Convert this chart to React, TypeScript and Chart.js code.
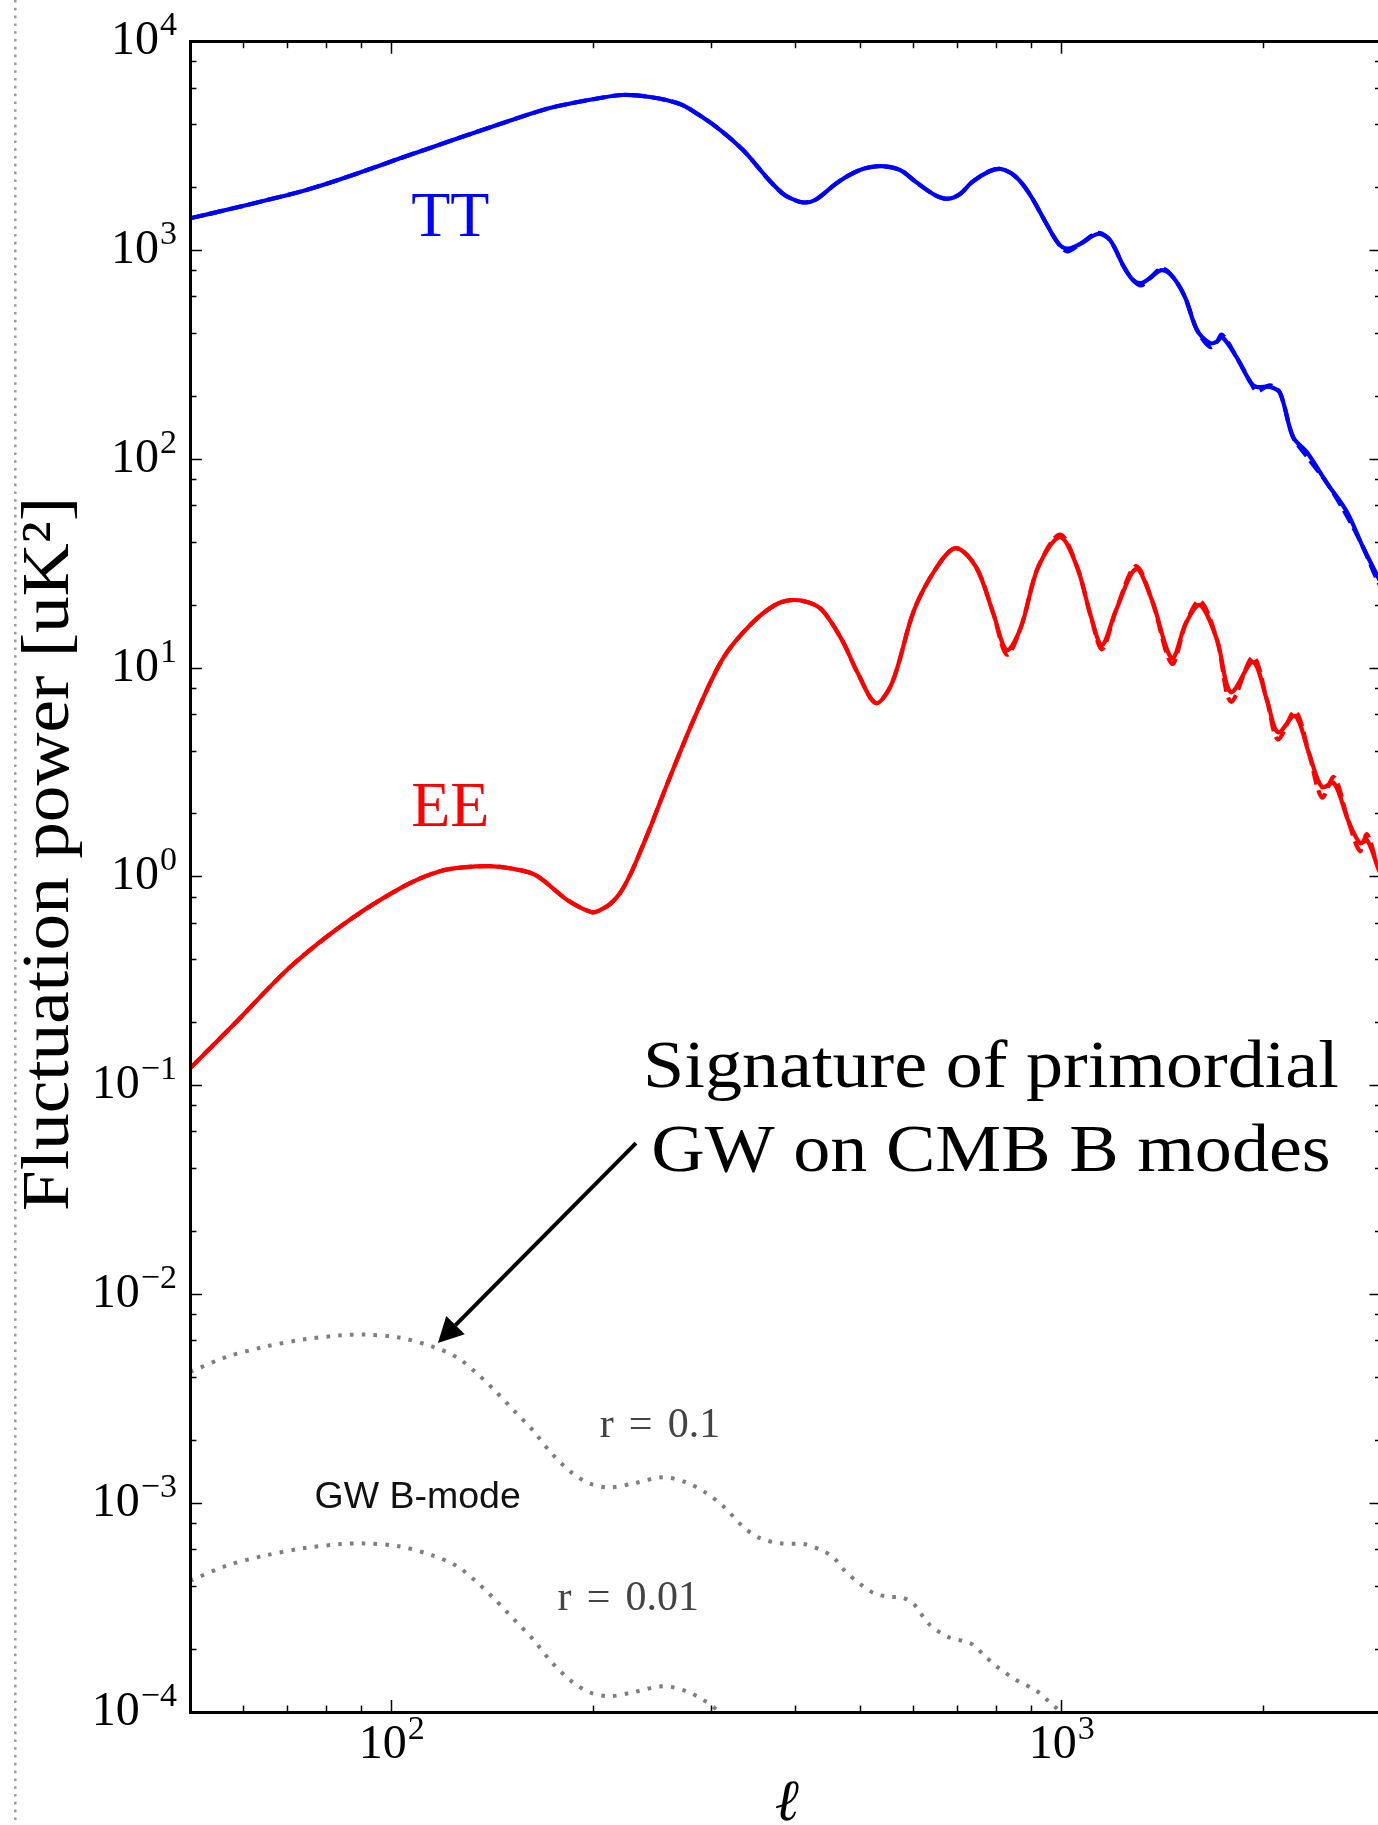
import React, { useEffect, useRef } from "react";
import { Chart, registerables } from "chart.js";

Chart.register(...registerables);

// ---------- spectra (multipole ℓ, power in uK²) ----------
const ttEll = [50, 58, 65.2, 73, 81.7, 91.9, 102.9, 122.2, 145.1, 172.3, 204.6, 221.4, 242.9, 269.2, 288.4, 310.7, 334.4, 350.0, 365.6, 382.5, 393.1, 410.4, 428.4, 463.4, 499.8, 536.7, 573.5, 605.9, 646.9, 675.7, 704.9, 734.6, 781.4, 811.5, 851.5, 893.5, 947.2, 987.1, 1018.1, 1064.6, 1132.4, 1180.1, 1238.3, 1277.2, 1312.8, 1354, 1411, 1465.4, 1527.1, 1591.3, 1664, 1704.5, 1734, 1819.4, 1915.7, 1955.7, 2045, 2116.6, 2213.2, 2322.3, 2487.5, 2664.4, 2814.9, 2963.8, 3088];
const ttSolid = [1426, 1592, 1745, 1911, 2135, 2429, 2763, 3344, 4034, 4813, 5375, 5556, 5434, 5030, 4431, 3734, 3028, 2566, 2175, 1884, 1784, 1699, 1745, 2125, 2429, 2533, 2429, 2127, 1843, 1770, 1864, 2127, 2402, 2456, 2273, 1884, 1354, 1086, 1020, 1074, 1199, 1122, 833, 722, 698, 738, 806, 746, 598, 416, 360, 366, 385, 312, 232, 222, 222, 208, 128, 108, 76.9, 55.9, 38.0, 27.3, 21.1];
const ttDashed = [1426, 1592, 1745, 1911, 2135, 2429, 2763, 3344, 4034, 4813, 5375, 5556, 5434, 5030, 4431, 3734, 3028, 2566, 2175, 1884, 1784, 1699, 1745, 2125, 2429, 2533, 2429, 2127, 1843, 1770, 1864, 2127, 2402, 2456, 2273, 1884, 1354, 1086, 990, 1074, 1215, 1122, 833, 722, 680, 738, 822, 746, 598, 416, 345, 366, 395, 312, 232, 212, 226, 208, 128, 103, 76.9, 53.5, 38.0, 26.0, 21.1];

const eeEll = [50, 58, 70.8, 86.4, 105, 118, 129, 140, 150, 164, 183, 199, 204.6, 211.7, 219.1, 226.8, 234.8, 242.9, 258, 285, 313, 345, 373, 394, 418, 439, 470, 496, 528, 558, 602, 651, 695, 745, 790, 828, 869, 922, 994, 1054, 1106, 1148, 1205, 1290, 1363, 1460, 1532, 1608, 1705, 1788, 1929, 2024, 2102, 2229, 2338, 2445, 2548, 2674, 2786, 2854, 2964, 3088];
const eeSolid = [0.121, 0.195, 0.374, 0.62, 0.912, 1.065, 1.113, 1.125, 1.1, 1.019, 0.773, 0.677, 0.693, 0.74, 0.835, 1.019, 1.313, 1.711, 2.81, 6.08, 11.28, 16.42, 20.02, 21.15, 20.69, 18.95, 13.61, 9.46, 6.8, 8.47, 18.95, 30.45, 37.55, 30.45, 18.33, 12.18, 15.7, 30.45, 42.39, 30.45, 17.54, 12.88, 18.95, 29.78, 21.15, 11.16, 16.42, 20.02, 13.61, 7.67, 10.68, 7.02, 4.93, 5.89, 3.91, 2.69, 2.81, 1.87, 1.45, 1.5, 1.11, 0.82];
const eeDashed = [0.121, 0.195, 0.374, 0.62, 0.912, 1.065, 1.113, 1.125, 1.1, 1.019, 0.773, 0.677, 0.693, 0.74, 0.835, 1.019, 1.313, 1.711, 2.81, 6.08, 11.28, 16.42, 20.02, 21.15, 20.69, 18.95, 13.61, 9.46, 6.8, 8.47, 18.95, 30.45, 37.55, 30.45, 18.33, 11.6, 15.7, 30.45, 43.6, 30.45, 17.54, 12.3, 18.95, 30.8, 21.15, 10.5, 16.42, 21.0, 13.61, 6.9, 11.3, 7.02, 4.55, 6.2, 3.91, 2.4, 3.0, 1.87, 1.33, 1.6, 1.11, 0.82];

// primordial gravitational-wave B-mode spectra
const bEll = [50, 56.7, 64.6, 73.7, 84.1, 91.0, 102.5, 115.3, 124.8, 133.3, 142.3, 152.0, 162.3, 173.3, 185.2, 197.7, 211.1, 228.5, 253.8, 274.7, 293.3, 313.3, 334.7, 354.5, 379.7, 413.9, 437.8, 455.5, 473.7, 499.3, 526.3, 554.2, 577.1, 600.3, 632.7, 676.0, 731.3, 770.7, 801.8, 856.2, 914.6, 951.5, 989.5, 1046.5];
const bR01 = [0.00425, 0.00502, 0.00561, 0.00608, 0.00637, 0.00642, 0.00622, 0.00561, 0.00502, 0.00425, 0.00348, 0.00279, 0.00224, 0.00173, 0.00141, 0.00124, 0.00119, 0.00124, 0.00133, 0.00126, 0.00113, 0.00096, 0.00077, 0.00068, 0.000643, 0.000636, 0.000595, 0.000553, 0.000477, 0.000412, 0.000369, 0.000356, 0.000354, 0.000331, 0.000265, 0.000229, 0.000213, 0.000183, 0.000164, 0.000142, 0.000127, 0.000114, 0.000102, 0.0000864];
const bR001 = [0.000425, 0.000502, 0.000561, 0.000608, 0.000637, 0.000642, 0.000622, 0.000561, 0.000502, 0.000425, 0.000348, 0.000279, 0.000224, 0.000173, 0.000141, 0.000124, 0.000119, 0.000124, 0.000133, 0.000126, 0.000113, 0.000096, 0.000077, 0.000068, 0.0000643, 0.0000636, 0.0000595, 0.0000553, 0.0000477, 0.0000412, 0.0000369, 0.0000356, 0.0000354, 0.0000331, 0.0000265, 0.0000229, 0.0000213, 0.0000183, 0.0000164, 0.0000142, 0.0000127, 0.0000114, 0.0000102, 0.00000864];

// ---------- axes ----------
const X_MIN = 50;
const X_MAX = 3000;
const Y_MIN = 1e-4;
const Y_MAX = 1e4;

const xMajorTicks = [100, 1000];
const xMajorLabels = ["2", "3"];
const xMinorTicks = [60, 70, 80, 90, 200, 300, 400, 500, 600, 700, 800, 900, 2000];
const yMajorTicks = [1e-4, 1e-3, 1e-2, 1e-1, 1, 10, 100, 1000, 10000];
const yMajorLabels = ["\u22124", "\u22123", "\u22122", "\u22121", "0", "1", "2", "3", "4"];
const yMinorSubs = [2, 4, 6, 8];
const yMinorTicks = yMajorTicks.slice(0, -1).flatMap((d) => yMinorSubs.map((s) => s * d));

const SERIF = "'Liberation Serif', 'DejaVu Serif', serif";
const SANS = "'Liberation Sans', Arial, sans-serif";

// text anchors in data coordinates (ℓ, power)
const ttLabelAt = [106.9, 1173];
const eeLabelAt = [106.9, 1.75];
const gwLabelAt = [76.7, 0.000946];
const r01LabelAt = [204.4, 0.002069];
const r001LabelAt = [176.8, 0.000307];
const noteAt = [784, 0.0983];
const noteLines = ["Signature of primordial", "GW on CMB B modes"];
const arrowTip = [117.2, 0.005857];
const arrowTail = [231.5, 0.05302];

const pts = (ell: number[], v: number[]) => ell.map((l, i) => ({ x: l, y: v[i] }));

function tickAxis(position: string, values: number[], len: number, border: boolean, weight: number, size: number) {
  const horizontal = position === "top" || position === "bottom";
  return {
    type: "logarithmic",
    axis: horizontal ? "x" : "y",
    position,
    min: horizontal ? X_MIN : Y_MIN,
    max: horizontal ? X_MAX : Y_MAX,
    weight,
    ticks: { display: false, autoSkip: false },
    grid: {
      display: true,
      drawOnChartArea: false,
      drawTicks: true,
      tickLength: -len,
      tickWidth: 1.5,
      tickColor: "#000",
      z: 1,
    },
    border: { display: border, color: "#000", width: 3, z: 1 },
    afterBuildTicks: (s: any) => {
      s.ticks = values.map((v) => ({ value: v }));
    },
    afterFit: (s: any) => {
      if (horizontal) s.height = size;
      else s.width = size;
    },
  };
}

function powerLabel(ctx: CanvasRenderingContext2D, exp: string, x: number, baseY: number, align: "right" | "center") {
  ctx.font = `48px ${SERIF}`;
  const wBase = ctx.measureText("10").width;
  ctx.font = `34px ${SERIF}`;
  const wExp = ctx.measureText(exp).width;
  const total = wBase + 1 + wExp;
  const left = align === "right" ? x - total : x - total / 2;
  ctx.textAlign = "left";
  ctx.textBaseline = "alphabetic";
  ctx.font = `48px ${SERIF}`;
  ctx.fillText("10", left, baseY);
  ctx.font = `34px ${SERIF}`;
  ctx.fillText(exp, left + wBase + 1, baseY - 19);
}

function stretched(ctx: CanvasRenderingContext2D, text: string, x: number, y: number, sx: number, align: CanvasTextAlign) {
  ctx.save();
  ctx.translate(x, y);
  ctx.scale(sx, 1);
  ctx.textAlign = align;
  ctx.textBaseline = "alphabetic";
  ctx.fillText(text, 0, 0);
  ctx.restore();
}

function mathRatio(ctx: CanvasRenderingContext2D, value: string, x: number, y: number) {
  ctx.font = `42px ${SERIF}`;
  ctx.textAlign = "left";
  ctx.textBaseline = "alphabetic";
  const gap = 42 * 0.36;
  let cx = x;
  for (const part of ["r", "=", value]) {
    ctx.fillText(part, cx, y);
    cx += ctx.measureText(part).width + gap;
  }
}

const decorPlugin = {
  id: "decor",
  beforeDraw(chart: any) {
    const ctx = chart.ctx as CanvasRenderingContext2D;
    ctx.save();
    ctx.strokeStyle = "#9c9c9c";
    ctx.lineWidth = 2.5;
    ctx.setLineDash([2.6, 5.2]);
    ctx.beginPath();
    ctx.moveTo(15.3, 0);
    ctx.lineTo(15.3, chart.height);
    ctx.stroke();
    ctx.restore();
  },
  afterDraw(chart: any) {
    const ctx = chart.ctx as CanvasRenderingContext2D;
    const area = chart.chartArea;
    const xs = chart.scales.x;
    const ys = chart.scales.y;
    const px = (p: number[]) => [xs.getPixelForValue(p[0]), ys.getPixelForValue(p[1])];
    ctx.save();
    ctx.fillStyle = "#000";

    // tick labels
    yMajorTicks.forEach((v, i) => {
      powerLabel(ctx, yMajorLabels[i], area.left - 13, ys.getPixelForValue(v) + 12.5, "right");
    });
    xMajorTicks.forEach((v, i) => {
      powerLabel(ctx, xMajorLabels[i], xs.getPixelForValue(v), area.bottom + 46, "center");
    });

    // axis titles
    ctx.font = `italic 58px ${SERIF}`;
    ctx.textAlign = "center";
    ctx.fillText("\u2113", (area.left + area.right) / 2 + 1, 1820);

    ctx.save();
    ctx.translate(68, 854);
    ctx.rotate(-Math.PI / 2);
    ctx.font = `68px ${SERIF}`;
    stretched(ctx, "Fluctuation power [uK\u00b2]", 0, 0, 1.078, "center");
    ctx.restore();

    // spectrum labels
    ctx.font = `64px ${SERIF}`;
    ctx.fillStyle = "#0000ff";
    let p = px(ttLabelAt);
    stretched(ctx, "TT", p[0], p[1], 1.0, "left");
    ctx.fillStyle = "#ff0000";
    p = px(eeLabelAt);
    stretched(ctx, "EE", p[0], p[1], 1.0, "left");

    ctx.fillStyle = "#111";
    ctx.font = `37.5px ${SANS}`;
    ctx.textAlign = "left";
    p = px(gwLabelAt);
    ctx.fillText("GW B-mode", p[0], p[1]);

    ctx.fillStyle = "#444";
    p = px(r01LabelAt);
    mathRatio(ctx, "0.1", p[0], p[1]);
    p = px(r001LabelAt);
    mathRatio(ctx, "0.01", p[0], p[1]);

    // annotation with arrow
    ctx.fillStyle = "#000";
    ctx.font = `68px ${SERIF}`;
    p = px(noteAt);
    noteLines.forEach((line, i) => stretched(ctx, line, p[0], p[1] + i * 84, 1.09, "center"));

    const tip = px(arrowTip);
    const tail = px(arrowTail);
    const ang = Math.atan2(tip[1] - tail[1], tip[0] - tail[0]);
    const headLen = 25;
    const headHalf = 13;
    const bx = tip[0] - headLen * Math.cos(ang);
    const by = tip[1] - headLen * Math.sin(ang);
    ctx.strokeStyle = "#000";
    ctx.lineWidth = 4;
    ctx.setLineDash([]);
    ctx.beginPath();
    ctx.moveTo(tail[0], tail[1]);
    ctx.lineTo(bx, by);
    ctx.stroke();
    ctx.beginPath();
    ctx.moveTo(tip[0], tip[1]);
    ctx.lineTo(bx + headHalf * Math.sin(ang), by - headHalf * Math.cos(ang));
    ctx.lineTo(bx - headHalf * Math.sin(ang), by + headHalf * Math.cos(ang));
    ctx.closePath();
    ctx.fill();

    ctx.restore();
  },
};

function lineSet(data: any[], color: string, width: number, dash: number[]) {
  return {
    data,
    borderColor: color,
    backgroundColor: color,
    borderWidth: width,
    borderDash: dash,
    borderCapStyle: "butt",
    borderJoinStyle: "round",
    pointRadius: 0,
    pointHoverRadius: 0,
    fill: false,
    tension: 0.32,
    clip: 0,
    xAxisID: "x",
    yAxisID: "y",
  };
}

export default function App() {
  const ref = useRef<HTMLCanvasElement>(null);

  useEffect(() => {
    const chart = new Chart(ref.current as HTMLCanvasElement, {
      type: "line",
      data: {
        datasets: [
          lineSet(pts(bEll, bR01), "#7e7e7e", 4, [3.6, 8.2]),
          lineSet(pts(bEll, bR001), "#7e7e7e", 4, [3.6, 8.2]),
          lineSet(pts(eeEll, eeDashed), "#ff0000", 4.2, [14, 6]),
          lineSet(pts(eeEll, eeSolid), "#ff0000", 4.2, []),
          lineSet(pts(ttEll, ttDashed), "#0000ff", 4.2, [14, 6]),
          lineSet(pts(ttEll, ttSolid), "#0000ff", 4.2, []),
        ] as any,
      },
      options: {
        animation: false,
        responsive: false,
        devicePixelRatio: 1,
        events: [],
        layout: { padding: { top: 41.7, right: 18.5, bottom: 0, left: 0 } },
        plugins: { legend: { display: false }, tooltip: { enabled: false } },
        scales: {
          x: tickAxis("bottom", xMajorTicks, 12, true, 1, 113),
          xMinor: tickAxis("bottom", xMinorTicks, 6.5, false, 0, 0),
          xTop: tickAxis("top", xMajorTicks, 12, true, 1, 0),
          xTopMinor: tickAxis("top", xMinorTicks, 6.5, false, 0, 0),
          y: tickAxis("left", yMajorTicks, 12, true, 1, 190),
          yMinor: tickAxis("left", yMinorTicks, 6.5, false, 0, 0),
          yRight: tickAxis("right", yMajorTicks, 12, true, 1, 0),
          yRightMinor: tickAxis("right", yMinorTicks, 6.5, false, 0, 0),
        } as any,
      },
      plugins: [decorPlugin as any],
    });
    return () => chart.destroy();
  }, []);

  return (
    <div
      style={{
        position: "absolute",
        left: 0,
        top: 0,
        width: 1378,
        height: 1825,
        overflow: "hidden",
        background: "#fff",
      }}
    >
      <canvas ref={ref} width={1400} height={1825} style={{ display: "block", width: 1400, height: 1825 }} />
    </div>
  );
}
